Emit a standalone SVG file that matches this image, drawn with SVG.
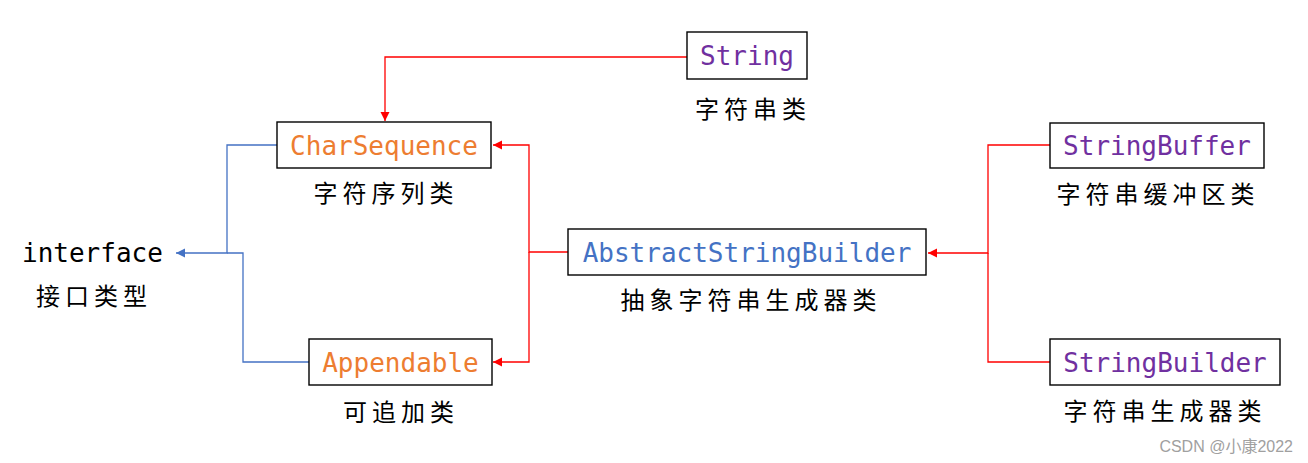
<svg xmlns="http://www.w3.org/2000/svg" width="1308" height="463" viewBox="0 0 1308 463">
<style>
.box{fill:#fff;stroke:#000;stroke-width:1.4}
.code{font-family:"DejaVu Sans Mono","Liberation Mono",monospace;font-size:26px;text-anchor:middle}
.cn{font-family:"Noto Sans CJK SC","Noto Sans CJK JP",sans-serif;font-size:24px;letter-spacing:5px;text-anchor:middle;fill:#000}
.orange{fill:#ED7D31}.purple{fill:#7030A0}.blue{fill:#4472C4}
.red{fill:none;stroke:#FF0000;stroke-width:1.3}
.bl{fill:none;stroke:#4472C4;stroke-width:1.3}
</style>
<defs>
<marker id="ar" markerUnits="userSpaceOnUse" markerWidth="10" markerHeight="10" refX="9" refY="4.5" orient="auto"><path d="M0,0 L9,4.5 L0,9 z" fill="#FF0000"/></marker>
<marker id="ab" markerUnits="userSpaceOnUse" markerWidth="10" markerHeight="10" refX="9" refY="4.5" orient="auto"><path d="M0,0 L9,4.5 L0,9 z" fill="#4472C4"/></marker>
</defs>
<rect width="1308" height="463" fill="#fff"/>
<g id="connectors">
<path class="red" d="M687,57 H385 V121" marker-end="url(#ar)"/>
<path class="red" d="M568,252 H529 V145 H493" marker-end="url(#ar)"/>
<path class="red" d="M529,252 V362 H493" marker-end="url(#ar)"/>
<path class="red" d="M1050,145 H988 V253 H928" marker-end="url(#ar)"/>
<path class="red" d="M1050,362 H988 V253"/>
<path class="bl" d="M277,145 H227 V253 H176" marker-end="url(#ab)"/>
<path class="bl" d="M309,362 H243 V253 H227"/>
</g>
<g id="string">
<rect class="box" x="687" y="32" width="120" height="47"/>
<text class="code purple" x="747" y="65">String</text>
<text class="cn" x="753" y="118">字符串类</text>
</g>
<g id="charsequence">
<rect class="box" x="277" y="122" width="214" height="46"/>
<text class="code orange" x="384" y="155">CharSequence</text>
<text class="cn" x="386" y="202">字符序列类</text>
</g>
<g id="interface">
<text x="22" y="262" style="font-family:'DejaVu Sans Mono','Liberation Mono',monospace;font-size:26px;fill:#000">interface</text>
<text class="cn" x="94" y="305">接口类型</text>
</g>
<g id="appendable">
<rect class="box" x="309" y="339" width="183" height="46"/>
<text class="code orange" x="400.5" y="372">Appendable</text>
<text class="cn" x="401" y="421">可追加类</text>
</g>
<g id="abstractstringbuilder">
<rect class="box" x="568" y="229" width="358" height="46"/>
<text class="code blue" x="747" y="262">AbstractStringBuilder</text>
<text class="cn" x="751" y="309">抽象字符串生成器类</text>
</g>
<g id="stringbuffer">
<rect class="box" x="1050" y="123" width="214" height="45"/>
<text class="code purple" x="1157" y="155">StringBuffer</text>
<text class="cn" x="1158" y="203">字符串缓冲区类</text>
</g>
<g id="stringbuilder">
<rect class="box" x="1050" y="339" width="230" height="46"/>
<text class="code purple" x="1165" y="372">StringBuilder</text>
<text class="cn" x="1165" y="420">字符串生成器类</text>
</g>
<text x="1293" y="452" style="font-family:'Liberation Sans','Noto Sans CJK SC',sans-serif;font-size:16px;fill:#A0A0A0;text-anchor:end">CSDN @小康2022</text>
</svg>
